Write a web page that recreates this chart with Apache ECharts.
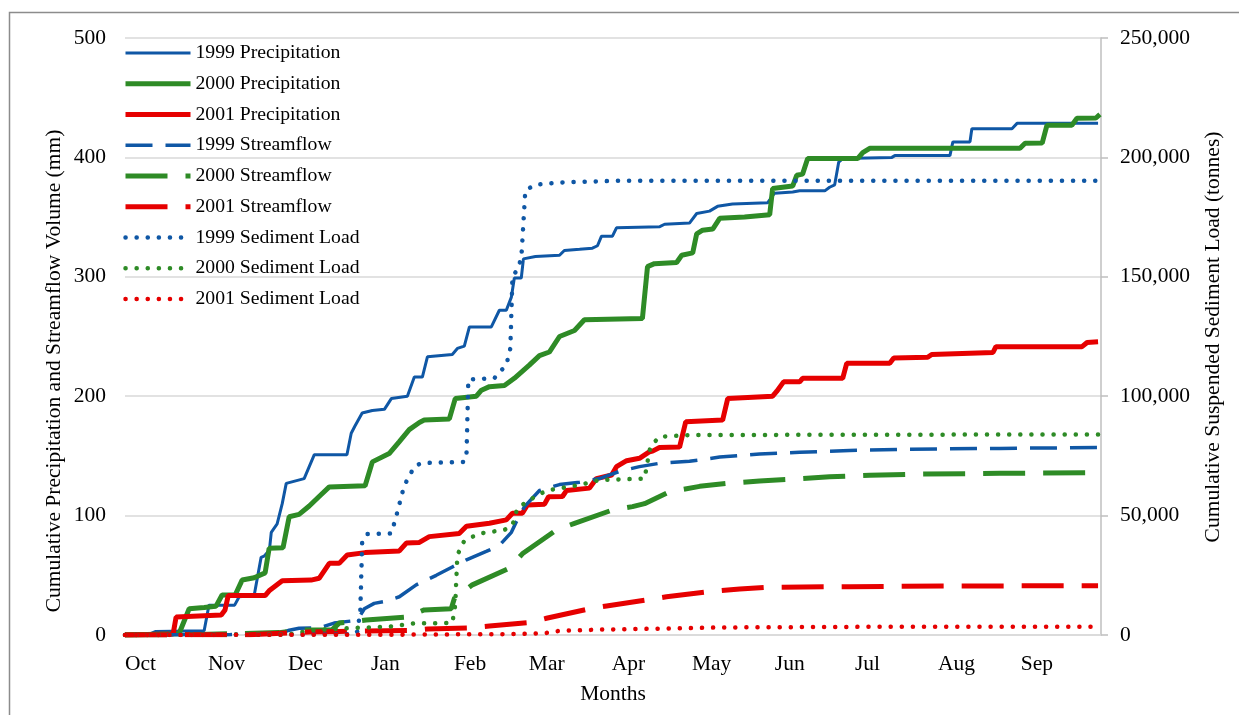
<!DOCTYPE html>
<html>
<head>
<meta charset="utf-8">
<title>Cumulative Precipitation, Streamflow and Sediment Load</title>
<script src="https://cdn.jsdelivr.net/npm/echarts@6/dist/echarts.min.js"></script>
<style>
  html, body { margin: 0; padding: 0; background: #ffffff; }
  #chart { width: 1239px; height: 715px; }
</style>
</head>
<body>
<div id="chart"></div>
<script>
// Water-year day (0 = 1 Oct) and the month each label marks
const monthStarts = [0, 31, 61, 92, 123, 151, 182, 212, 243, 273, 304, 335];
const monthNames = ['Oct', 'Nov', 'Dec', 'Jan', 'Feb', 'Mar', 'Apr', 'May', 'Jun', 'Jul', 'Aug', 'Sep'];

const seriesNames = [
  '1999 Precipitation', '2000 Precipitation', '2001 Precipitation',
  '1999 Streamflow', '2000 Streamflow', '2001 Streamflow',
  '1999 Sediment Load', '2000 Sediment Load', '2001 Sediment Load'
];

// Cumulative precipitation, mm  [day, mm]
const precip1999 = [
  [0,0],[9,0.5],[11.5,3],[29.6,3.5],[31.4,25],[41,25],[42.7,32],[48.3,33],[50.9,65],[52,66],
  [54,71],[54.7,86],[56.9,93],[58.8,110],[60.3,127],[67,131],[70.8,151],[83,151],[84.6,169],
  [86,175],[88.7,186],[92.5,188],[97,189],[99.6,198],[105.6,200],[108.2,216],[111.2,216],
  [113.1,233],[122.4,235],[124.3,240],[126.9,242],[128.8,258],[137,258],[140,272],[142.6,272],
  [144.5,283],[145.6,299],[148.2,299],[149,315],[153.5,317],[162.5,318],[164.3,322],[170,323],
  [174.8,324],[176.7,326],[178.2,334],[182.3,334],[183.8,341],[200,342],[201.8,344],[211.1,345],
  [213.8,353],[218.6,355],[221.6,359],[227.2,361],[240.3,362],[242.9,370],[249.7,371],[252.3,372],
  [261.7,372],[263.5,375],[265.4,377],[266.9,396],[268.4,399],[286.8,400],[287.9,401.5],
  [308.5,401.5],[309.6,413],[316,413],[316.7,424],[331.7,424],[333.6,428.5],[363.9,428.5]
];
const precip2000 = [
  [0,0],[20.2,1],[24,22],[29.6,23],[34,24],[36.3,33.5],[41.2,33.5],[43.8,46],[48.3,48],[52.4,52],
  [53.9,72.6],[59.1,73],[61.4,99],[65.1,101],[68.9,108],[72.6,116],[76.4,124],[89.8,125],
  [92.5,145],[98.8,152],[102.6,162],[106.3,172],[110.1,178],[111.9,180],[121.3,181],[123.5,198],
  [131.4,200],[133.3,205],[136.3,208],[141.9,209],[145.6,215],[151.2,226],[155,234],[158.7,237],
  [162.5,250],[168.1,255],[171.8,264],[193.5,265],[195.4,308.5],[198,311],[206.3,312],[208.2,318],
  [212.3,320],[213.8,336],[216,339],[219.8,340],[222.4,349],[231.7,350],[241.1,352],[242.2,374],
  [249.7,376],[251.2,385],[253.4,386],[255.3,399],[274,399],[275.9,404],[278.5,407.6],
  [334.7,407.6],[336.6,411.8],[343,412],[344.8,427],[354.1,427],[356,432.7],[363.1,433],[364.6,436]
];
const precip2001 = [
  [0,0],[18,0.8],[19.1,15],[36,16.8],[37.4,21],[38.6,33],[52.4,33],[53.9,37],[58.8,45.5],
  [69.6,46],[72.6,47.5],[76.4,60],[80.1,60],[83.1,67],[89.8,69],[102.6,70.4],[105.2,77],
  [110.1,77.5],[113.8,82.4],[125,85],[127.7,91],[136.3,93.6],[142.6,96.4],[144.9,102],[148.6,102],
  [150.5,108.9],[156.9,109.6],[158.4,115.8],[163.6,116],[165.1,121],[173.7,123],[176.3,131],
  [182,134],[183.8,141],[187.6,146],[192.4,148],[196.2,153.5],[197.3,154],[199.9,157],[207.4,157.4],
  [209.7,178.6],[223.5,180],[225.4,198],[242.2,200],[243.7,204],[246.3,212],[252.3,212],[253.4,215],
  [268.4,215],[269.9,227.5],[286,227.5],[287.5,232],[300.2,232.6],[301.7,235],[316,236],
  [324.6,236.6],[325.7,241.5],[357.9,241.5],[359.8,245],[363.9,245.6]
];

// Cumulative streamflow volume, mm  [day, mm]
const flow1999 = [
  [0,0],[39,0.3],[57.7,1],[61.4,4],[65.1,5.6],[72.6,6],[78.2,10],[85.7,12],[87.6,15],[89.5,22],
  [93.2,26.5],[97,28],[102.6,32],[108.9,42],[116.4,50],[122.4,57],[127.7,63],[135.1,70],[140,75],
  [144.5,86],[146.4,95],[149.4,107.5],[155,121],[162.5,126],[170,128],[177.4,131],[184.9,137],
  [192.4,141],[199.9,143.8],[211.1,145.5],[222.4,149],[237.3,151.6],[252.3,153],[271,154.5],
  [289.8,155.5],[327.2,156.3],[363.9,157]
];
const flow2000 = [
  [0,0],[27.7,0.5],[57.7,2],[65.1,4],[77.5,4.5],[80.1,10],[90.2,12.5],[105.2,15],[111.9,21],
  [122,22],[123.2,30.7],[129.9,42],[143.8,56],[148.6,68],[161.3,88],[168.1,93.5],[182.3,104.7],
  [189.8,107.5],[194.3,110],[203.7,120],[214.9,124.5],[225.4,127],[237.3,129],[248.6,130.4],
  [263.5,132.5],[278.5,133.8],[297.2,134.8],[327.2,135.4],[363.9,136]
];
const flow2001 = [
  [0,0],[46.4,0.3],[68.9,2.5],[80.1,3],[106.3,3.8],[113.1,5],[128.8,6],[136.3,7.5],[151.2,10.5],
  [157.6,14],[173.7,22],[180.1,24.3],[195,29.3],[202.5,32],[218.6,36.3],[229.9,38.5],[241.1,40],
  [271,40.5],[308.5,41],[363.9,41.3]
];

// Cumulative suspended sediment load, tonnes  [day, t]
const sed1999 = [
  [0,0],[65,250],[85.7,300],[86.9,1500],[88,10000],[88.7,39000],[90.6,42300],[99.6,42500],
  [101.5,50000],[104.4,62500],[108.2,70500],[110.8,72000],[126.9,72500],[127.7,75000],
  [128.4,107000],[138.1,107500],[140,110000],[142.6,113000],[144.1,120000],[144.9,150000],
  [146.4,152500],[148.2,157500],[149.7,186000],[153.1,188500],[162.5,189500],[184.9,190250],
  [363.9,190250]
];
const sed2000 = [
  [0,0],[61.4,250],[70,2000],[82.7,2800],[98.8,3500],[108.2,4900],[122.4,5000],[123.5,12500],
  [124.3,33500],[126.9,39500],[132.5,42500],[141.9,44000],[144.9,46000],[146.7,53000],
  [151.2,56500],[157.6,60500],[170,62800],[177.4,64900],[194.3,65500],[195.4,72500],
  [196.5,79000],[199.9,83000],[211.1,83750],[363.9,84000]
];
const sed2001 = [
  [0,0],[102.6,150],[147.5,400],[156.9,750],[162.5,1750],[177.4,2250],[207.4,2800],
  [222.4,3150],[271,3400],[363.9,3500]
];

const BLUE = '#0f57a5';
const GREEN = '#2e8b26';
const RED = '#e60000';
const FONT = '"Liberation Serif", "Times New Roman", serif';
const DOT = [0.1, 11];

// Line look for each series, in legend order
const styles = [
  { color: BLUE,  width: 3,   type: 'solid',  axis: 0 },
  { color: GREEN, width: 5,   type: 'solid',  axis: 0 },
  { color: RED,   width: 5,   type: 'solid',  axis: 0 },
  { color: BLUE,  width: 3.5, type: [27, 13], axis: 0 },
  { color: GREEN, width: 5,   type: [42, 18], axis: 0 },
  { color: RED,   width: 5,   type: [42, 18], axis: 0 },
  { color: BLUE,  width: 4.5, type: DOT,      axis: 1 },
  { color: GREEN, width: 4.5, type: DOT,      axis: 1 },
  { color: RED,   width: 4.5, type: DOT,      axis: 1 }
];
const seriesData = [precip1999, precip2000, precip2001, flow1999, flow2000, flow2001, sed1999, sed2000, sed2001];

function capFor(type) {
  return type === DOT ? 'round' : 'butt';
}

const series = seriesNames.map(function (name, i) {
  const s = styles[i];
  return {
    name: name,
    type: 'line',
    data: seriesData[i],
    yAxisIndex: s.axis,
    symbol: 'none',
    smooth: false,
    lineStyle: { color: s.color, width: s.width, type: s.type, cap: capFor(s.type) },
    itemStyle: { color: s.color },
    emphasis: { disabled: true }
  };
});

const legendData = seriesNames.map(function (name, i) {
  const s = styles[i];
  return {
    name: name,
    itemStyle: { opacity: 0 },
    lineStyle: { color: s.color, width: s.width, type: s.type, cap: capFor(s.type) }
  };
});

const option = {
  animation: false,
  backgroundColor: '#ffffff',
  textStyle: { fontFamily: FONT, color: '#000000' },
  grid: { left: 125, right: 138, top: 38, bottom: 80, containLabel: false },
  legend: {
    orient: 'vertical',
    left: 123,
    top: 43,
    padding: 0,
    itemWidth: 65,
    itemHeight: 20,
    itemGap: 10.75,
    data: legendData,
    textStyle: { fontFamily: FONT, fontSize: 19.7, color: '#000000', lineHeight: 20 },
    selectedMode: false
  },
  xAxis: {
    type: 'value',
    min: 0,
    max: 365,
    axisLine: { show: true, lineStyle: { color: '#d9d9d9', width: 1.5 } },
    axisTick: { show: false },
    splitLine: { show: false },
    axisLabel: {
      customValues: monthStarts,
      align: 'left',
      margin: 18,
      fontFamily: FONT,
      fontSize: 21.5,
      color: '#000000',
      formatter: function (v) {
        const i = monthStarts.indexOf(v);
        return i >= 0 ? monthNames[i] : '';
      }
    }
  },
  yAxis: [
    {
      type: 'value',
      min: 0,
      max: 500,
      interval: 100,
      axisLine: { show: false },
      axisTick: { show: false },
      splitLine: { show: true, lineStyle: { color: '#d9d9d9', width: 1.5 } },
      axisLabel: { margin: 19, fontFamily: FONT, fontSize: 21.5, color: '#000000' }
    },
    {
      type: 'value',
      min: 0,
      max: 250000,
      interval: 50000,
      position: 'right',
      axisLine: { show: true, lineStyle: { color: '#bfbfbf', width: 1.5 } },
      axisTick: { show: true, inside: false, length: 7, lineStyle: { color: '#bfbfbf', width: 1.5 } },
      splitLine: { show: false },
      axisLabel: {
        margin: 19,
        fontFamily: FONT,
        fontSize: 21.5,
        color: '#000000',
        formatter: function (v) { return v.toLocaleString('en-US'); }
      }
    }
  ],
  graphic: [
    {
      type: 'rect',
      shape: { x: 9.5, y: 12.5, width: 1240, height: 710 },
      style: { fill: 'none', stroke: '#8c8c8c', lineWidth: 1.5 },
      silent: true, z: -10
    },
    {
      type: 'text',
      x: 54, y: 371, rotation: Math.PI / 2,
      style: {
        text: 'Cumulative Precipitation and Streamflow Volume (mm)',
        font: '21.5px ' + FONT, fill: '#000000', align: 'center', verticalAlign: 'middle'
      },
      silent: true
    },
    {
      type: 'text',
      x: 1213, y: 337, rotation: Math.PI / 2,
      style: {
        text: 'Cumulative Suspended Sediment Load (tonnes)',
        font: '21.5px ' + FONT, fill: '#000000', align: 'center', verticalAlign: 'middle'
      },
      silent: true
    },
    {
      type: 'text',
      x: 613, y: 694,
      style: {
        text: 'Months',
        font: '21.5px ' + FONT, fill: '#000000', align: 'center', verticalAlign: 'middle'
      },
      silent: true
    }
  ],
  series: series
};

const chart = echarts.init(document.getElementById('chart'), null, { renderer: 'canvas' });
chart.setOption(option);
</script>
</body>
</html>
